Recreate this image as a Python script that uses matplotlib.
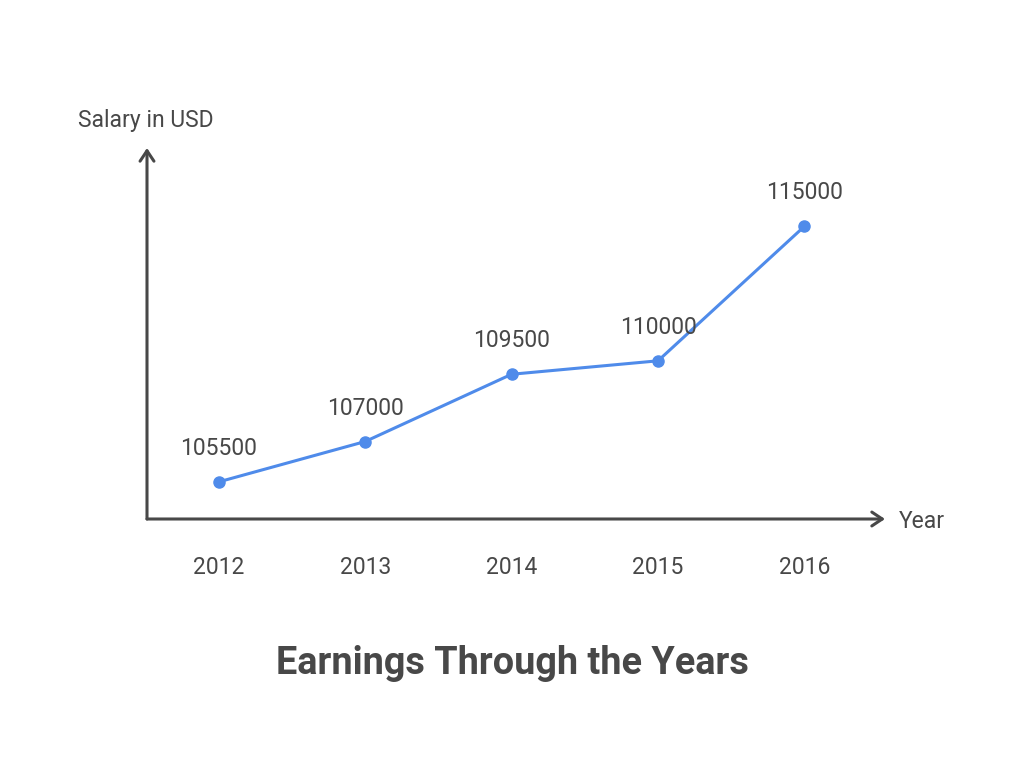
import matplotlib.pyplot as plt

plt.rcParams['font.family'] = ['Roboto', 'DejaVu Sans']

years = [2012, 2013, 2014, 2015, 2016]
salary = [105500, 107000, 109500, 110000, 115000]

INK = "#484848"
BLUE = "#4F8BEA"

fig = plt.figure(figsize=(10.24, 7.68), dpi=100)
ax = fig.add_axes([147 / 1024, 1 - 519 / 768, (885 - 147) / 1024, (519 - 148) / 768])
ax.set_xlim(2011.51, 2016.55)
ax.set_ylim(104120, 117910)
for s in ax.spines.values():
    s.set_visible(False)
ax.set_yticks([])
ax.set_xticks(years)
ax.set_xticklabels([str(y) for y in years], fontsize=16.5, color=INK)
ax.tick_params(axis="x", length=0, pad=27)

# axis arrows
arrow = dict(arrowstyle="->,head_length=0.75,head_width=0.5", color=INK, lw=2.2,
             shrinkA=0, shrinkB=0)
ax.annotate("", xy=(1, 0), xytext=(0, 0), xycoords="axes fraction", arrowprops=arrow)
ax.annotate("", xy=(0, 1), xytext=(0, 0), xycoords="axes fraction", arrowprops=arrow)

ax.plot(years, salary, color=BLUE, lw=2.2, marker="o", markersize=8, clip_on=False)
for x, y in zip(years, salary):
    ax.annotate(str(y), (x, y), xytext=(0, 24), textcoords="offset points",
                ha="center", va="center", fontsize=16.5, color=INK)

fig.text(78 / 1024, 1 - 121 / 768, "Salary in USD", fontsize=16.5, color=INK,
         ha="left", va="center")
fig.text(899 / 1024, 1 - 522 / 768, "Year", fontsize=16.5, color=INK,
         ha="left", va="center")
fig.text(0.5, 1 - 663 / 768, "Earnings Through the Years", fontsize=27.3,
         fontweight="bold", color=INK, ha="center", va="center")

fig.savefig("out.png", dpi=100, facecolor="white")
